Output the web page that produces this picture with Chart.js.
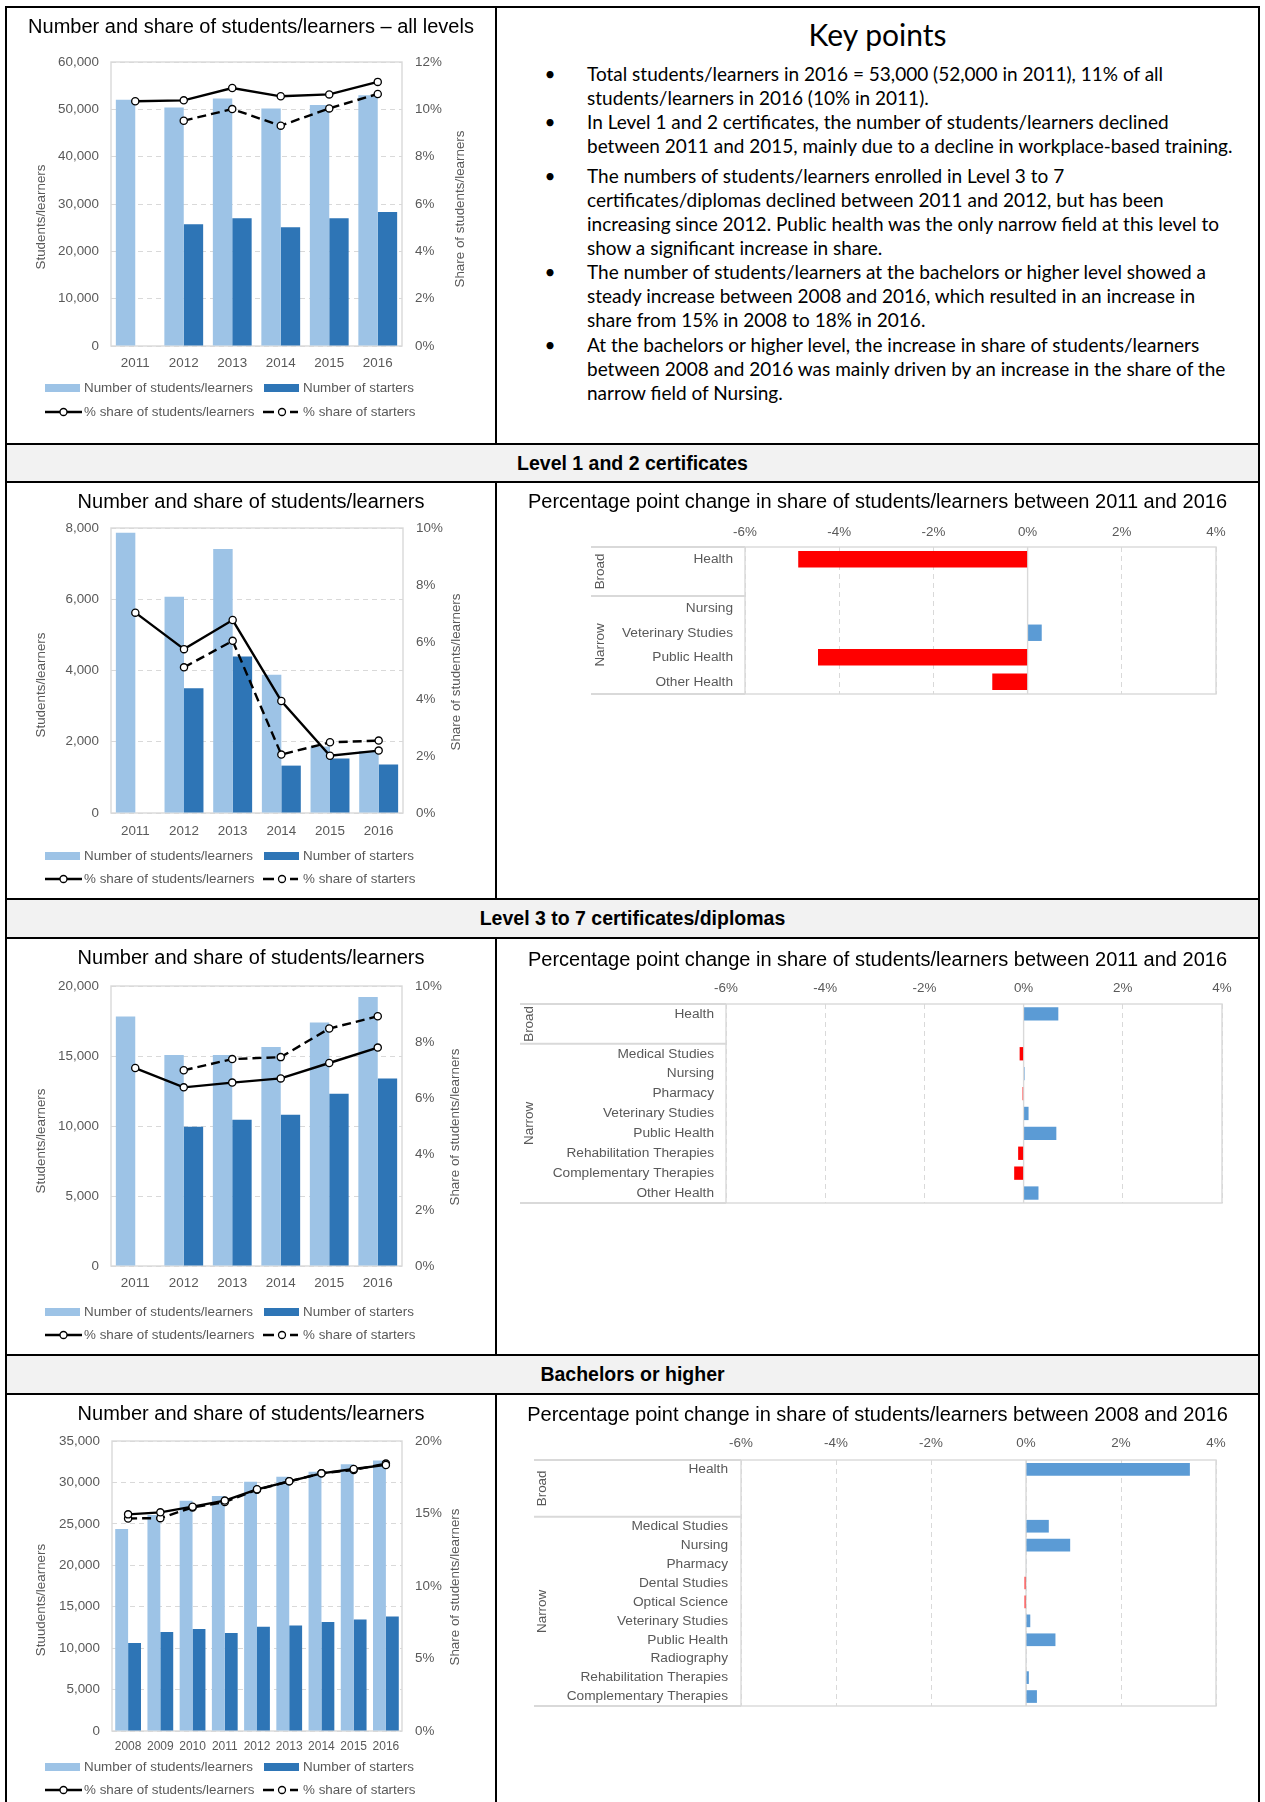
<!DOCTYPE html>
<html>
<head>
<meta charset="utf-8">
<title>Health students/learners</title>
<script src="https://cdn.jsdelivr.net/npm/chart.js@4.4.0/dist/chart.umd.min.js"></script>
<style>
  html, body { margin: 0; padding: 0; background: #fff; }
  body { width: 1265px; height: 1802px; position: relative; overflow: hidden; }
  .rule { position: absolute; background: #000; }
  .band { position: absolute; left: 7px; width: 1251px; background: #f2f2f2;
          display: flex; align-items: center; justify-content: center;
          font: bold 19.5px 'Liberation Sans', Arial, sans-serif; color: #000; }
  canvas { position: absolute; }
  #kp { position: absolute; left: 497px; top: 8px; width: 761px; height: 435px;
        font-family: Lato, 'Open Sans', sans-serif; color: #000; }
  #kp .head { position: absolute; left: 0; width: 761px; top: 9px; text-align: center;
              font-size: 30px; line-height: 34px; }
  #kp .item { position: absolute; left: 90px; font-size: 19px; line-height: 24px; white-space: nowrap; }
  #kp .item .dot { position: absolute; left: -43px; width: 12px; text-align: center; }
</style>
</head>
<body>

<!-- table rules -->
<div class="rule" style="left:5px;top:6px;width:1255px;height:2px"></div>
<div class="rule" style="left:5px;top:6px;width:2px;height:1796px"></div>
<div class="rule" style="left:1258px;top:6px;width:2px;height:1796px"></div>
<div class="rule" style="left:495px;top:8px;width:2px;height:435px"></div>
<div class="rule" style="left:495px;top:483px;width:2px;height:415px"></div>
<div class="rule" style="left:495px;top:939px;width:2px;height:415px"></div>
<div class="rule" style="left:495px;top:1395px;width:2px;height:407px"></div>
<div class="rule" style="left:5px;top:443px;width:1255px;height:2px"></div>
<div class="rule" style="left:5px;top:481px;width:1255px;height:2px"></div>
<div class="rule" style="left:5px;top:898px;width:1255px;height:2px"></div>
<div class="rule" style="left:5px;top:937px;width:1255px;height:2px"></div>
<div class="rule" style="left:5px;top:1354px;width:1255px;height:2px"></div>
<div class="rule" style="left:5px;top:1393px;width:1255px;height:2px"></div>

<div class="band" style="top:445px;height:36px">Level 1 and 2 certificates</div>
<div class="band" style="top:900px;height:37px">Level 3 to 7 certificates/diplomas</div>
<div class="band" style="top:1356px;height:37px">Bachelors or higher</div>

<div id="kp">
  <div class="head">Key points</div>
  <div class="item" style="top:54px"><span class="dot">•</span>Total students/learners in 2016 = 53,000 (52,000 in 2011), 11% of all<br>students/learners in 2016 (10% in 2011).</div>
  <div class="item" style="top:102px"><span class="dot">•</span>In Level 1 and 2 certificates, the number of students/learners declined<br>between 2011 and 2015, mainly due to a decline in workplace-based training.</div>
  <div class="item" style="top:156px"><span class="dot">•</span>The numbers of students/learners enrolled in Level 3 to 7<br>certificates/diplomas declined between 2011 and 2012, but has been<br>increasing since 2012. Public health was the only narrow field at this level to<br>show a significant increase in share.</div>
  <div class="item" style="top:252px"><span class="dot">•</span>The number of students/learners at the bachelors or higher level showed a<br>steady increase between 2008 and 2016, which resulted in an increase in<br>share from 15% in 2008 to 18% in 2016.</div>
  <div class="item" style="top:325px"><span class="dot">•</span>At the bachelors or higher level, the increase in share of students/learners<br>between 2008 and 2016 was mainly driven by an increase in the share of the<br>narrow field of Nursing.</div>
</div>

<canvas id="cAll" width="488" height="435" style="left:7px;top:8px"></canvas>
<canvas id="cL12" width="488" height="415" style="left:7px;top:483px"></canvas>
<canvas id="hL12" width="761" height="415" style="left:497px;top:483px"></canvas>
<canvas id="cL37" width="488" height="415" style="left:7px;top:939px"></canvas>
<canvas id="hL37" width="761" height="415" style="left:497px;top:939px"></canvas>
<canvas id="cBach" width="488" height="407" style="left:7px;top:1395px"></canvas>
<canvas id="hBach" width="761" height="407" style="left:497px;top:1395px"></canvas>

<script>
// ---------- data ----------
const years11 = ['2011', '2012', '2013', '2014', '2015', '2016'];
const years08 = ['2008', '2009', '2010', '2011', '2012', '2013', '2014', '2015', '2016'];

// all levels
const allStudents      = [52000, 50400, 52300, 50200, 50900, 53000];
const allStarters      = [null, 25700, 27000, 25100, 27000, 28300];
const allShareStudents = [10.34, 10.38, 10.90, 10.55, 10.63, 11.16];
const allShareStarters = [null, 9.52, 10.01, 9.31, 10.04, 10.65];

// level 1 and 2 certificates
const l12Students      = [7870, 6070, 7410, 3880, 1870, 1740];
const l12Starters      = [null, 3500, 4390, 1330, 1530, 1360];
const l12ShareStudents = [7.03, 5.75, 6.77, 3.93, 2.01, 2.19];
const l12ShareStarters = [null, 5.11, 6.04, 2.05, 2.48, 2.54];

// level 3 to 7 certificates/diplomas
const l37Students      = [17830, 15070, 15070, 15640, 17400, 19210];
const l37Starters      = [null, 9950, 10450, 10810, 12310, 13400];
const l37ShareStudents = [7.07, 6.38, 6.55, 6.70, 7.25, 7.80];
const l37ShareStarters = [null, 6.99, 7.39, 7.46, 8.48, 8.92];

// bachelors or higher
const bachStudents      = [24370, 26060, 27790, 28350, 30080, 30690, 31290, 32180, 32660];
const bachStarters      = [10630, 11960, 12320, 11840, 12570, 12730, 13170, 13450, 13810];
const bachShareStudents = [14.94, 15.08, 15.47, 15.89, 16.67, 17.22, 17.77, 18.07, 18.35];
const bachShareStarters = [14.66, 14.68, 15.42, 15.79, 16.64, 17.22, 17.77, 18.00, 18.44];

// percentage point change by field ('' marks the spare slot under a broad field)
const l12Fields = ['Health', '', 'Nursing', 'Veterinary Studies', 'Public Health', 'Other Health'];
const l12Change = [-4.87, null, 0.01, 0.30, -4.45, -0.75];
const l12Groups = [{ name: 'Broad', from: 0, to: 1 }, { name: 'Narrow', from: 2, to: 5 }];

const l37Fields = ['Health', '', 'Medical Studies', 'Nursing', 'Pharmacy', 'Veterinary Studies',
                   'Public Health', 'Rehabilitation Therapies', 'Complementary Therapies', 'Other Health'];
const l37Change = [0.70, null, -0.08, 0.02, -0.02, 0.10, 0.66, -0.11, -0.19, 0.30];
const l37Groups = [{ name: 'Broad', from: 0, to: 1 }, { name: 'Narrow', from: 2, to: 9 }];

const bachFields = ['Health', '', '', 'Medical Studies', 'Nursing', 'Pharmacy', 'Dental Studies',
                    'Optical Science', 'Veterinary Studies', 'Public Health', 'Radiography',
                    'Rehabilitation Therapies', 'Complementary Therapies'];
const bachChange = [3.45, null, null, 0.48, 0.93, 0.01, -0.03, -0.03, 0.09, 0.62, 0.01, 0.06, 0.23];
const bachGroups = [{ name: 'Broad', from: 0, to: 2 }, { name: 'Narrow', from: 3, to: 12 }];

// ---------- styling ----------
const FONT = "'Liberation Sans', Arial, Helvetica, sans-serif";
const LIGHT = '#9dc3e6', DARK = '#2e75b6', POS = '#5b9bd5', NEG = '#ff0000';
const GRID = '#d9d9d9', TEXT = '#595959';
const TICK = 13.4;

Chart.defaults.font.family = FONT;
Chart.defaults.color = TEXT;
Chart.defaults.animation = false;

// frame, titles, axis titles, Excel-style legend and field-group labels
const sheetDecor = {
  id: 'sheetDecor',
  beforeDatasetsDraw(chart, args, o) {
    const a = chart.chartArea, ctx = chart.ctx;
    ctx.save();
    ctx.strokeStyle = GRID;
    ctx.lineWidth = 1.4;
    ctx.strokeRect(a.left, a.top, a.right - a.left, a.bottom - a.top);
    if (o.zeroLine) {
      const x0 = chart.scales.x.getPixelForValue(0);
      ctx.beginPath(); ctx.moveTo(x0, a.top); ctx.lineTo(x0, a.bottom); ctx.stroke();
    }
    if (o.groups) {
      const n = chart.data.labels.length, step = (a.bottom - a.top) / n;
      ctx.lineWidth = 2;
      const edges = [0, n];
      o.groups.forEach(g => edges.push(g.from));
      edges.forEach(k => {
        const y = a.top + k * step;
        ctx.beginPath(); ctx.moveTo(o.groupLeft, y); ctx.lineTo(a.left, y); ctx.stroke();
      });
    }
    ctx.restore();
  },
  afterDraw(chart, args, o) {
    const a = chart.chartArea, ctx = chart.ctx, W = chart.width;
    ctx.save();
    // chart title
    ctx.fillStyle = '#000';
    ctx.font = `20px ${FONT}`;
    ctx.textAlign = 'center';
    ctx.textBaseline = 'middle';
    ctx.fillText(o.title, W / 2, o.titleY);

    ctx.fillStyle = TEXT;
    ctx.font = `${TICK}px ${FONT}`;
    const vtext = (txt, x, y) => {
      ctx.save(); ctx.translate(x, y); ctx.rotate(-Math.PI / 2);
      ctx.fillText(txt, 0, 0); ctx.restore();
    };
    if (o.leftTitle) vtext(o.leftTitle.text, o.leftTitle.x, o.leftTitle.y);
    if (o.rightTitle) vtext(o.rightTitle.text, o.rightTitle.x, o.rightTitle.y);

    if (o.groups) {
      const n = chart.data.labels.length, step = (a.bottom - a.top) / n;
      o.groups.forEach(g => {
        const yc = a.top + (g.from + g.to + 1) / 2 * step;
        vtext(g.name, o.groupX, yc);
      });
    }

    if (o.legendRows) {
      const ds = chart.data.datasets;
      const [r1, r2] = o.legendRows;
      ctx.textAlign = 'left';
      // bar swatches
      ctx.fillStyle = ds[0].backgroundColor; ctx.fillRect(38, r1 - 4, 35, 8);
      ctx.fillStyle = ds[1].backgroundColor; ctx.fillRect(257, r1 - 4, 35, 8);
      ctx.fillStyle = TEXT;
      ctx.fillText(ds[0].label, 77, r1);
      ctx.fillText(ds[1].label, 296, r1);
      // line swatches
      const marker = (x, y) => {
        ctx.beginPath(); ctx.arc(x, y, 3.5, 0, Math.PI * 2);
        ctx.fillStyle = '#fff'; ctx.fill();
        ctx.lineWidth = 1.3; ctx.strokeStyle = '#000'; ctx.stroke();
      };
      ctx.strokeStyle = '#000'; ctx.lineWidth = 2.5;
      ctx.beginPath(); ctx.moveTo(38, r2); ctx.lineTo(75, r2); ctx.stroke();
      marker(56.5, r2);
      ctx.strokeStyle = '#000'; ctx.lineWidth = 2.5;
      ctx.beginPath(); ctx.moveTo(256, r2); ctx.lineTo(267, r2);
      ctx.moveTo(283, r2); ctx.lineTo(291, r2); ctx.stroke();
      marker(275, r2);
      ctx.fillStyle = TEXT;
      ctx.fillText(ds[2].label, 77, r2);
      ctx.fillText(ds[3].label, 296, r2);
    }
    ctx.restore();
  }
};
Chart.register(sheetDecor);

// bar + line chart: students and starters (bars), their shares (lines)
function comboChart(id, cfg) {
  const lineBase = {
    type: 'line', yAxisID: 'y1', order: 0, borderColor: '#000', borderWidth: 2.4,
    pointRadius: 3.6, pointBorderWidth: 1.3, pointBackgroundColor: '#fff',
    pointBorderColor: '#000', pointHoverRadius: 3.6, tension: 0, spanGaps: false
  };
  return new Chart(document.getElementById(id), {
    data: {
      labels: cfg.labels,
      datasets: [
        { type: 'bar', label: 'Number of students/learners', data: cfg.students, backgroundColor: LIGHT,
          yAxisID: 'y', order: 1, categoryPercentage: 0.8, barPercentage: 1 },
        { type: 'bar', label: 'Number of starters', data: cfg.starters, backgroundColor: DARK,
          yAxisID: 'y', order: 1, categoryPercentage: 0.8, barPercentage: 1 },
        Object.assign({ label: '% share of students/learners', data: cfg.shareStudents }, lineBase),
        Object.assign({ label: '% share of starters', data: cfg.shareStarters, borderDash: [9, 5] }, lineBase)
      ]
    },
    options: {
      responsive: false,
      layout: { padding: { left: 0, right: 0, top: cfg.area.top, bottom: cfg.padBottom } },
      plugins: {
        legend: { display: false },
        tooltip: { enabled: false },
        title: { display: false },
        sheetDecor: {
          title: cfg.title, titleY: 19,
          leftTitle: { text: cfg.leftTitle, x: 34.5, y: cfg.leftTitleY },
          rightTitle: { text: 'Share of students/learners', x: cfg.rightTitleX, y: cfg.rightTitleY },
          legendRows: cfg.legendRows
        }
      },
      scales: {
        x: {
          grid: { display: false, drawTicks: false }, border: { display: false },
          ticks: { autoSkip: false, maxRotation: 0, padding: cfg.xPad, font: { size: cfg.xFont } },
          afterFit: s => { s.height = 30; }
        },
        y: {
          position: 'left', min: 0, max: cfg.yMax,
          ticks: { stepSize: cfg.yStep, padding: 12, font: { size: TICK },
                   callback: v => v.toLocaleString('en-US') },
          grid: { color: GRID, lineWidth: 1, drawTicks: false },
          border: { display: false, dash: [5, 4] },
          afterFit: s => { s.width = cfg.area.left; }
        },
        y1: {
          position: 'right', min: 0, max: cfg.y1Max,
          ticks: { stepSize: cfg.y1Step, padding: 13, font: { size: TICK }, callback: v => v + '%' },
          grid: { drawOnChartArea: false, drawTicks: false },
          border: { display: false },
          afterFit: s => { s.width = cfg.canvasW - cfg.area.right; }
        }
      }
    }
  });
}

// horizontal bars: percentage point change in share by field
function changeChart(id, cfg) {
  return new Chart(document.getElementById(id), {
    type: 'bar',
    data: {
      labels: cfg.fields,
      datasets: [{
        data: cfg.values,
        backgroundColor: c => (c.raw < 0 ? NEG : POS),
        categoryPercentage: 0.67, barPercentage: 1
      }]
    },
    options: {
      indexAxis: 'y',
      responsive: false,
      layout: { padding: { left: 0, right: cfg.canvasW - cfg.area.right, top: cfg.area.top - 30,
                           bottom: cfg.canvasH - cfg.area.bottom } },
      plugins: {
        legend: { display: false },
        tooltip: { enabled: false },
        title: { display: false },
        sheetDecor: {
          title: cfg.title, titleY: cfg.titleY, zeroLine: true,
          groups: cfg.groups, groupLeft: cfg.groupLeft, groupX: cfg.groupX
        }
      },
      scales: {
        x: {
          position: 'top', min: -6, max: 4,
          ticks: { stepSize: 2, padding: cfg.xPad, font: { size: TICK }, callback: v => v + '%' },
          grid: { color: GRID, lineWidth: 1, drawTicks: false },
          border: { display: false, dash: [5, 4] },
          afterFit: s => { s.height = 30; }
        },
        y: {
          grid: { display: false, drawTicks: false }, border: { display: false },
          ticks: { autoSkip: false, padding: cfg.yPad, font: { size: 13.7 } },
          afterFit: s => { s.width = cfg.area.left; }
        }
      }
    }
  });
}

comboChart('cAll', {
  labels: years11, students: allStudents, starters: allStarters,
  shareStudents: allShareStudents, shareStarters: allShareStarters,
  title: 'Number and share of students/learners \u2013 all levels', leftTitle: 'Students/learners',
  yMax: 60000, yStep: 10000, y1Max: 12, y1Step: 2,
  canvasW: 488, area: { left: 104, right: 395, top: 54 }, padBottom: 435 - 338 - 30,
  xPad: 9, xFont: TICK, leftTitleY: 209, rightTitleX: 453, rightTitleY: 201, legendRows: [380, 404]
});

comboChart('cL12', {
  labels: years11, students: l12Students, starters: l12Starters,
  shareStudents: l12ShareStudents, shareStarters: l12ShareStarters,
  title: 'Number and share of students/learners', leftTitle: 'Students/learners',
  yMax: 8000, yStep: 2000, y1Max: 10, y1Step: 2,
  canvasW: 488, area: { left: 104, right: 396, top: 45 }, padBottom: 415 - 330 - 30,
  xPad: 10, xFont: TICK, leftTitleY: 202, rightTitleX: 449, rightTitleY: 189, legendRows: [373, 396]
});

comboChart('cL37', {
  labels: years11, students: l37Students, starters: l37Starters,
  shareStudents: l37ShareStudents, shareStarters: l37ShareStarters,
  title: 'Number and share of students/learners', leftTitle: 'Students/learners',
  yMax: 20000, yStep: 5000, y1Max: 10, y1Step: 2,
  canvasW: 488, area: { left: 104, right: 395, top: 47 }, padBottom: 415 - 327 - 30,
  xPad: 9, xFont: TICK, leftTitleY: 202, rightTitleX: 448, rightTitleY: 188, legendRows: [373, 396]
});

comboChart('cBach', {
  labels: years08, students: bachStudents, starters: bachStarters,
  shareStudents: bachShareStudents, shareStarters: bachShareStarters,
  title: 'Number and share of students/learners', leftTitle: 'Stuudents/learners',
  yMax: 35000, yStep: 5000, y1Max: 20, y1Step: 5,
  canvasW: 488, area: { left: 105, right: 395, top: 46 }, padBottom: 407 - 336 - 30,
  xPad: 8, xFont: 12, leftTitleY: 205, rightTitleX: 448, rightTitleY: 192, legendRows: [372, 395]
});

changeChart('hL12', {
  fields: l12Fields, values: l12Change, groups: l12Groups,
  title: 'Percentage point change in share of students/learners between 2011 and 2016', titleY: 19,
  canvasW: 761, canvasH: 415, area: { left: 248, right: 719, top: 64, bottom: 211 },
  xPad: 7, yPad: 12, groupLeft: 94, groupX: 103
});

changeChart('hL37', {
  fields: l37Fields, values: l37Change, groups: l37Groups,
  title: 'Percentage point change in share of students/learners between 2011 and 2016', titleY: 21,
  canvasW: 761, canvasH: 415, area: { left: 229, right: 725, top: 65, bottom: 264 },
  xPad: 8, yPad: 12, groupLeft: 23, groupX: 32
});

changeChart('hBach', {
  fields: bachFields, values: bachChange, groups: bachGroups,
  title: 'Percentage point change in share of students/learners between 2008 and 2016', titleY: 20,
  canvasW: 761, canvasH: 407, area: { left: 244, right: 719, top: 65, bottom: 311 },
  xPad: 9, yPad: 13, groupLeft: 37, groupX: 45
});
</script>
</body>
</html>
